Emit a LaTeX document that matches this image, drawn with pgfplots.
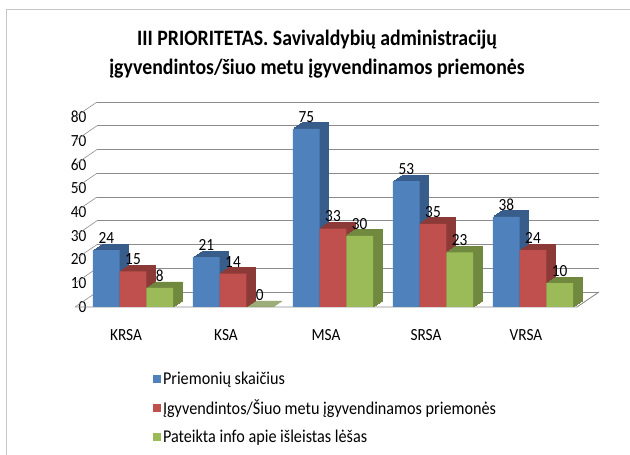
\documentclass[border=0pt]{standalone}
\usepackage{fontspec}
\setmainfont{Carlito}[FakeStretch=0.9]
\usepackage{pgfplots}
\pgfplotsset{compat=1.18}
\usepackage{pgfplotstable}
\definecolor{cblue}{HTML}{4F81BD}
\definecolor{cbluedk}{HTML}{385D8A}
\definecolor{cred}{HTML}{C0504D}
\definecolor{creddk}{HTML}{8C3A37}
\definecolor{cgreen}{HTML}{9BBB59}
\definecolor{cgreendk}{HTML}{71893F}
\definecolor{gridc}{HTML}{8C8C8C}
\pgfplotstableread{
x a b c
0 24 15 8
1 21 14 0
2 75 33 30
3 53 35 23
4 38 24 10
}\datatable
\begin{document}
\begin{tikzpicture}
\path[use as bounding box] (0,0) rectangle (630pt,455pt);
\draw[gray!45, line width=1pt] (6pt,0) -- (6pt,445pt) -- (630pt,445pt);
\node[font=\fontsize{22}{28.5}\selectfont\bfseries, align=center] at (317pt,401pt) {III PRIORITETAS. Savivaldybių administracijų\\įgyvendintos/šiuo metu įgyvendinamos priemonės};
\begin{axis}[
  at={(75pt,148pt)}, anchor=south west,
  scale only axis, width=502pt, height=190pt,
  xmin=-0.58, xmax=4.44, ymin=0, ymax=80,
  clip=false,
  axis line style={draw=none},
  tick style={draw=none},
  ytick={0,10,...,80},
  xtick={0,1,2,3,4},
  xticklabels={KRSA,KSA,MSA,SRSA,VRSA},
  ymajorgrids,
  major grid style={gridc, line width=0.9pt, xshift=22pt, yshift=15pt},
  /pgf/number format/assume math mode=true,
  tick label style={font=\fontsize{17}{20}\selectfont},
  xticklabel style={yshift=-19pt, xshift=-7pt},
  yticklabel style={xshift=15pt},
  nodes near coords style={font=\fontsize{17}{20}\selectfont, anchor=south, yshift=3pt},
  legend image code/.code={\fill[#1, draw=none] (0pt,-4pt) rectangle (8pt,4pt);},
  legend style={at={(0.155,-0.328)}, anchor=north west, draw=none, fill=none, inner sep=0pt,
    font=\fontsize{18}{21}\selectfont, row sep=10pt,
    /tikz/every even column/.append style={column sep=4pt}},
  legend cell align=left,
]
\draw[gridc, line width=0.6pt] (axis cs:-0.58,0) -- ++(22pt,15pt);
\draw[gridc, line width=0.6pt] (axis cs:-0.58,10) -- ++(22pt,15pt);
\draw[gridc, line width=0.6pt] (axis cs:-0.58,20) -- ++(22pt,15pt);
\draw[gridc, line width=0.6pt] (axis cs:-0.58,30) -- ++(22pt,15pt);
\draw[gridc, line width=0.6pt] (axis cs:-0.58,40) -- ++(22pt,15pt);
\draw[gridc, line width=0.6pt] (axis cs:-0.58,50) -- ++(22pt,15pt);
\draw[gridc, line width=0.6pt] (axis cs:-0.58,60) -- ++(22pt,15pt);
\draw[gridc, line width=0.6pt] (axis cs:-0.58,70) -- ++(22pt,15pt);
\draw[gridc, line width=0.6pt] (axis cs:-0.58,80) -- ++(22pt,15pt);
\draw[gridc, line width=0.9pt] (axis cs:-0.58,0) -- (axis cs:4.44,0) -- ++(22pt,15pt);
% blue series
\pgfplotsinvokeforeach{1,2,3,4,5,6}{
  \addplot[ybar, bar width=26.7pt, bar shift=-26.7pt, fill=cbluedk, draw=cbluedk, line width=0.8pt,
    xshift={#1*1.5pt}, yshift={#1*1pt}, forget plot] table[x=x,y=a]{\datatable};
}
\addplot[ybar, bar width=26.7pt, bar shift=-26.7pt, fill=cblue, draw=none, nodes near coords,
  every node near coord/.append style={xshift=-26.7pt}] table[x=x,y=a]{\datatable};
\addlegendentry{Priemonių skaičius}
% red series
\pgfplotsinvokeforeach{1,2,3,4,5,6}{
  \addplot[ybar, bar width=26.7pt, bar shift=0pt, fill=creddk, draw=creddk, line width=0.8pt,
    xshift={#1*1.5pt}, yshift={#1*1pt}, forget plot] table[x=x,y=b]{\datatable};
}
\addplot[ybar, bar width=26.7pt, bar shift=0pt, fill=cred, draw=none, nodes near coords] table[x=x,y=b]{\datatable};
\addlegendentry{Įgyvendintos/Šiuo metu įgyvendinamos priemonės}
% green series
\pgfplotsinvokeforeach{1,2,3,4,5,6}{
  \addplot[ybar, bar width=26.7pt, bar shift=26.7pt, fill=cgreendk, draw=cgreendk, line width=0.8pt,
    xshift={#1*1.5pt}, yshift={#1*1pt}, forget plot] table[x=x,y=c]{\datatable};
}
\addplot[ybar, bar width=26.7pt, bar shift=26.7pt, fill=cgreen, draw=none, nodes near coords,
  every node near coord/.append style={xshift=26.7pt}] table[x=x,y=c]{\datatable};
\addlegendentry{Pateikta info apie išleistas lėšas}
\end{axis}
\end{tikzpicture}
\end{document}
